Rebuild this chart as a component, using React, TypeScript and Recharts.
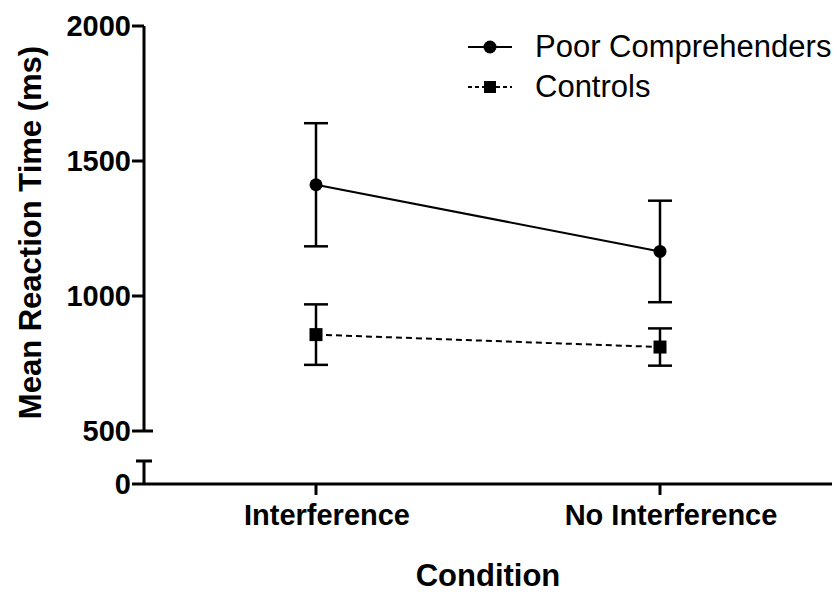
import React from 'react';
import { LineChart, Line, XAxis, YAxis, ErrorBar, Legend } from 'recharts';

const conditions = ['Interference', 'No Interference'];
const poorMeans = [1412, 1165];
const poorErrors = [228, 188];
const controlMeans = [857, 811];
const controlErrors = [112, 69];
const seriesNames = ['Poor Comprehenders', 'Controls'];
const upperTicks = [500, 1000, 1500, 2000];
const lowerTicks = [0];
const lowerSegmentMax = 85;
const xTitle = 'Condition';
const yTitle = 'Mean Reaction Time (ms)';

const FONT = "Arial, 'Liberation Sans', sans-serif";
const W = 837;
const H = 594;
const AXIS_W = 144;
const RIGHT = 5;
const CAT_PAD = 172;
const TICK_FS = 29;
const TITLE_FS = 31;

const data = conditions.map((c, i) => ({
  condition: c,
  poor: poorMeans[i],
  poorErr: poorErrors[i],
  control: controlMeans[i],
  controlErr: controlErrors[i],
}));

const makeYTick = (labelled: number[], capValue: number, capLeft: number, capRight: number) =>
  (props: any) => {
    const { x, y, payload } = props;
    const v = payload.value;
    const showLabel = labelled.includes(v);
    return (
      <g>
        {showLabel && <line x1={x - 12} x2={x} y1={y} y2={y} stroke="#000" strokeWidth={3} />}
        {v === capValue && (
          <line x1={x - capLeft} x2={x + capRight} y1={y} y2={y} stroke="#000" strokeWidth={3} />
        )}
        {showLabel && (
          <text
            x={x - 13}
            y={y}
            dy="0.36em"
            textAnchor="end"
            fill="#000"
            fontSize={TICK_FS}
            fontWeight="bold"
            fontFamily={FONT}
          >
            {v}
          </text>
        )}
      </g>
    );
  };

const circleDot = (props: any) => {
  const { cx, cy, index } = props;
  return <circle key={`c-${index}`} cx={cx} cy={cy} r={6.5} fill="#000" />;
};
const squareDot = (props: any) => {
  const { cx, cy, index } = props;
  return <rect key={`s-${index}`} x={cx - 6.5} y={cy - 6.5} width={13} height={13} fill="#000" />;
};

const YTitle = (props: any) => {
  const vb = props.viewBox || { x: 0, y: 26, width: AXIS_W, height: 405 };
  const cx = vb.x + 30;
  const cy = vb.y + vb.height / 2 + 4;
  return (
    <text
      x={cx}
      y={cy}
      transform={`rotate(-90 ${cx} ${cy})`}
      textAnchor="middle"
      dy="0.36em"
      fill="#000"
      fontSize={TITLE_FS}
      fontWeight="bold"
      fontFamily={FONT}
    >
      {yTitle}
    </text>
  );
};

const LegendContent = () => (
  <div style={{ fontFamily: FONT, fontSize: 31, color: '#000' }}>
    {seriesNames.map((name, i) => (
      <div key={name} style={{ display: 'flex', alignItems: 'center', height: 40 }}>
        <svg width={50} height={40} style={{ display: 'block', flex: 'none' }}>
          <line
            x1={4}
            x2={48}
            y1={20}
            y2={20}
            stroke="#000"
            strokeWidth={2}
            strokeDasharray={i === 1 ? '4 3' : undefined}
          />
          {i === 0 ? (
            <circle cx={26} cy={20} r={6.5} fill="#000" />
          ) : (
            <rect x={20} y={14} width={12} height={12} fill="#000" />
          )}
        </svg>
        <span style={{ marginLeft: 21, lineHeight: '40px', whiteSpace: 'nowrap' }}>{name}</span>
      </div>
    ))}
  </div>
);

export default function App() {
  return (
    <div style={{ position: 'absolute', left: 0, top: 0, width: W, height: H, background: '#fff' }}>
      <div style={{ position: 'absolute', left: 0, top: 0 }}>
        <LineChart width={W} height={H} data={data} margin={{ top: 461, right: RIGHT, bottom: 0, left: 0 }}>
          <XAxis
            dataKey="condition"
            type="category"
            scale="point"
            padding={{ left: CAT_PAD, right: CAT_PAD }}
            height={110}
            axisLine={{ stroke: '#000', strokeWidth: 3 }}
            tickLine={{ stroke: '#000', strokeWidth: 3 }}
            tickSize={11}
            tickMargin={9}
            tick={{ fill: '#000', fontSize: TICK_FS, fontWeight: 'bold', fontFamily: FONT, dx: 11 }}
            interval={0}
            label={{
              value: xTitle,
              position: 'insideBottom',
              offset: 8,
              fill: '#000',
              fontSize: TITLE_FS,
              fontWeight: 'bold',
              fontFamily: FONT,
            }}
          />
          <YAxis
            type="number"
            domain={[0, lowerSegmentMax]}
            ticks={[...lowerTicks, lowerSegmentMax]}
            allowDataOverflow
            width={AXIS_W}
            axisLine={{ stroke: '#000', strokeWidth: 3 }}
            tickLine={false}
            tickSize={0}
            tickMargin={0}
            interval={0}
            tick={makeYTick(lowerTicks, lowerSegmentMax, 8, 8)}
          />
          <Line
            dataKey="control"
            stroke="none"
            dot={false}
            activeDot={false}
            legendType="none"
            isAnimationActive={false}
          />
        </LineChart>
      </div>
      <div style={{ position: 'absolute', left: 0, top: 0 }}>
        <LineChart width={W} height={H} data={data} margin={{ top: 26, right: RIGHT, bottom: 163, left: 0 }}>
          <XAxis
            dataKey="condition"
            type="category"
            scale="point"
            padding={{ left: CAT_PAD, right: CAT_PAD }}
            hide
          />
          <YAxis
            type="number"
            domain={[upperTicks[0], upperTicks[upperTicks.length - 1]]}
            ticks={upperTicks}
            allowDataOverflow
            width={AXIS_W}
            axisLine={{ stroke: '#000', strokeWidth: 3 }}
            tickLine={false}
            tickSize={0}
            tickMargin={0}
            interval={0}
            tick={makeYTick(upperTicks, upperTicks[0], 0, 9)}
            label={{ content: (p: any) => <YTitle {...p} /> }}
          />
          <Legend
            layout="vertical"
            align="center"
            verticalAlign="middle"
            content={<LegendContent />}
            wrapperStyle={{ left: 464, top: 27, width: 373, height: 80 }}
          />
          <Line
            dataKey="control"
            name={seriesNames[1]}
            stroke="#000"
            strokeWidth={2}
            strokeDasharray="6 4"
            dot={squareDot}
            activeDot={false}
            isAnimationActive={false}
          >
            <ErrorBar dataKey="controlErr" width={12} stroke="#000" strokeWidth={2.5} direction="y" isAnimationActive={false} />
          </Line>
          <Line
            dataKey="poor"
            name={seriesNames[0]}
            stroke="#000"
            strokeWidth={2}
            dot={circleDot}
            activeDot={false}
            isAnimationActive={false}
          >
            <ErrorBar dataKey="poorErr" width={12} stroke="#000" strokeWidth={2.5} direction="y" isAnimationActive={false} />
          </Line>
        </LineChart>
      </div>
    </div>
  );
}
